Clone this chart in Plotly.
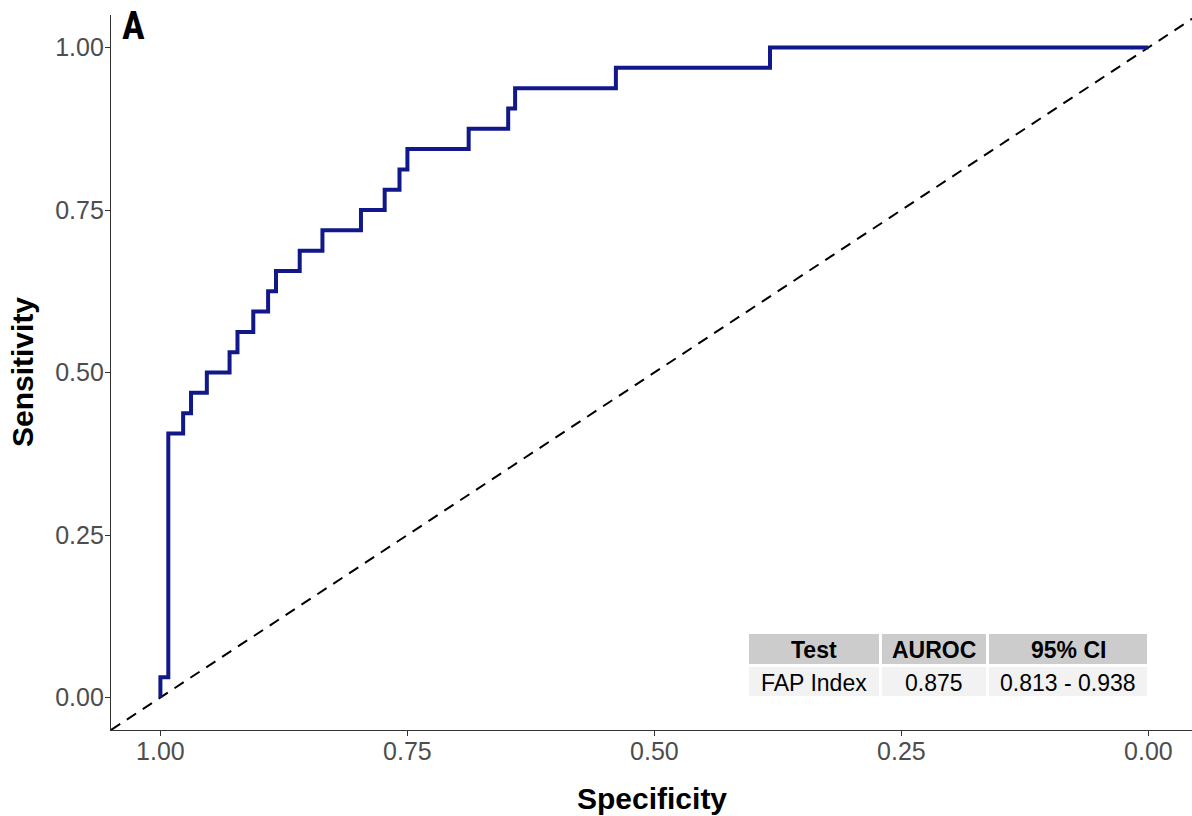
import plotly.graph_objects as go

# ROC curve (step path)
specificity = [1.0, 1.0, 0.992, 0.977, 0.969, 0.953, 0.930, 0.922, 0.906, 0.891,
               0.883, 0.859, 0.836, 0.797, 0.773, 0.758, 0.750, 0.688, 0.648,
               0.641, 0.539, 0.383, 0.0]
sensitivity = [0.0, 0.03125, 0.40625, 0.4375, 0.46875, 0.5, 0.53125, 0.5625,
               0.59375, 0.625, 0.65625, 0.6875, 0.71875, 0.75, 0.78125, 0.8125,
               0.84375, 0.875, 0.90625, 0.9375, 0.96875, 1.0, 1.0]

# chance diagonal
diag_spec = [1.05, -0.05]
diag_sens = [-0.05, 1.05]

tick_vals = [1.0, 0.75, 0.5, 0.25, 0.0]
tick_text = ["1.00", "0.75", "0.50", "0.25", "0.00"]

table_header = ["Test", "AUROC", "95% CI"]
table_row = ["FAP Index", "0.875", "0.813 - 0.938"]

panel_label = "A"
x_title = "Specificity"
y_title = "Sensitivity"

W, H = 1192, 816
ML, MR, MT, MB = 111, 0, 15, 86
PW, PH = W - ML - MR, H - MT - MB

def px_x(px):
    return (px - ML) / PW

def px_y(py):
    return (H - MB - py) / PH

fig = go.Figure()
fig.add_trace(go.Scatter(x=diag_spec, y=diag_sens, mode="lines",
                         line=dict(color="black", width=2, dash="11px,8px"),
                         hoverinfo="skip", showlegend=False))
fig.add_trace(go.Scatter(x=specificity, y=sensitivity, mode="lines",
                         line=dict(color="#11198A", width=4, shape="hv"),
                         showlegend=False))

axis_common = dict(showgrid=False, zeroline=False, showline=True,
                   linecolor="#333333", linewidth=1.2, ticks="outside",
                   ticklen=5, tickwidth=1.2, tickcolor="#333333",
                   tickfont=dict(family="Liberation Sans, Arial", size=25, color="#4D4D4D"),
                   tickvals=tick_vals, ticktext=tick_text)

fig.update_layout(
    width=W, height=H,
    margin=dict(l=ML, r=MR, t=MT, b=MB),
    paper_bgcolor="white", plot_bgcolor="white",
    xaxis=dict(range=[1.05, -0.0441], ticklabelstandoff=-6, **axis_common),
    yaxis=dict(range=[-0.05, 1.05], ticklabelstandoff=-4, **axis_common),
)

# table (header + one row)
cols = [(749, 879), (882, 986), (989, 1147)]
rows = [(634, 664, "#CCCCCC", True, table_header),
        (667, 696, "#F2F2F2", False, table_row)]
shapes = []
annotations = []
for (top, bot, fill, bold, texts) in rows:
    for (x0, x1), txt in zip(cols, texts):
        shapes.append(dict(type="rect", xref="paper", yref="paper",
                           x0=px_x(x0), x1=px_x(x1), y0=px_y(bot), y1=px_y(top),
                           fillcolor=fill, line=dict(width=0), layer="above"))
        annotations.append(dict(xref="paper", yref="paper",
                                x=px_x((x0 + x1) / 2), y=px_y((top + bot) / 2 + 1),
                                text=f"<b>{txt}</b>" if bold else txt,
                                showarrow=False, xanchor="center", yanchor="middle",
                                font=dict(family="Liberation Sans, Arial", size=23, color="black")))

annotations.append(dict(xref="paper", yref="paper", x=px_x(652), y=px_y(798),
                        text=f"<b>{x_title}</b>", showarrow=False,
                        xanchor="center", yanchor="middle",
                        font=dict(family="Liberation Sans, Arial", size=30, color="black")))
annotations.append(dict(xref="paper", yref="paper", x=px_x(22), y=px_y(372),
                        text=f"<b>{y_title}</b>", showarrow=False, textangle=-90,
                        xanchor="center", yanchor="middle",
                        font=dict(family="Liberation Sans, Arial", size=30, color="black")))
annotations.append(dict(xref="paper", yref="paper", x=px_x(120), y=px_y(2),
                        text=f"<b>{panel_label}</b>", showarrow=False,
                        xanchor="left", yanchor="top",
                        font=dict(family="Liberation Sans Narrow, Roboto Condensed, Roboto", size=38, color="black")))

fig.update_layout(shapes=shapes, annotations=annotations)
fig.write_html("out.html", config={"displayModeBar": False},
               post_script="document.body.style.margin='0';document.body.style.padding='0';document.body.style.overflow='hidden';")
